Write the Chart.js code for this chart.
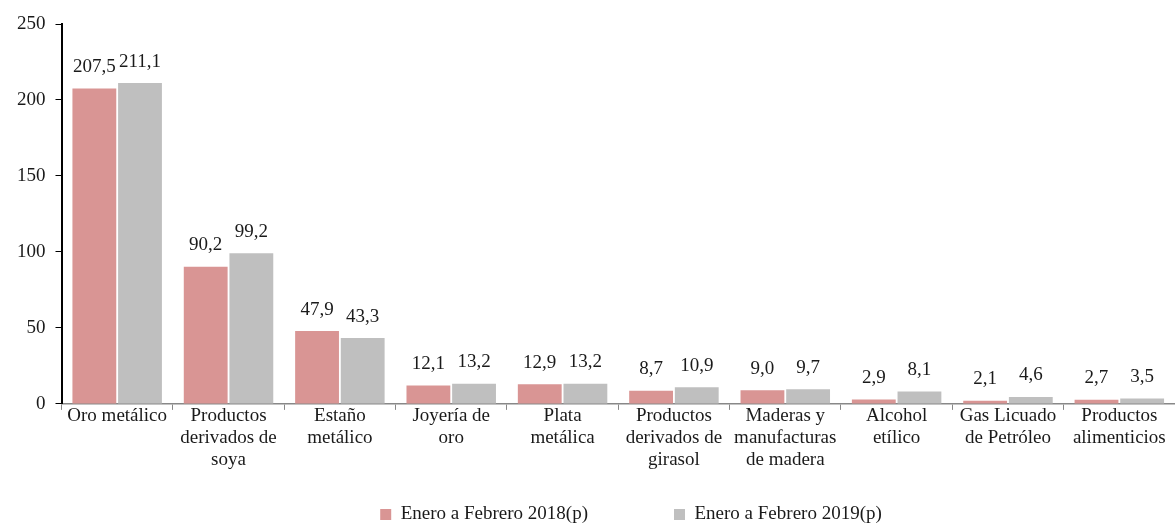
<!DOCTYPE html>
<html lang="es">
  <head>
    <meta charset="UTF-8" />
    <title>Exportaciones Enero a Febrero</title>
    <script src="https://cdn.jsdelivr.net/npm/chart.js@4.4.1/dist/chart.umd.min.js"></script>
    <style>
      body { margin: 0; background: #fff; }
      #wrap { width: 1175px; height: 525px; }
    </style>
  </head>
  <body>
    <div id="wrap"><canvas id="chart" width="1175" height="525"></canvas></div>
    <script>
    // categorias (eje x, en varias lineas)
    const categorias = [
      ['Oro metálico'],
      ['Productos', 'derivados de', 'soya'],
      ['Estaño', 'metálico'],
      ['Joyería de', 'oro'],
      ['Plata', 'metálica'],
      ['Productos', 'derivados de', 'girasol'],
      ['Maderas y', 'manufacturas', 'de madera'],
      ['Alcohol', 'etílico'],
      ['Gas Licuado', 'de Petróleo'],
      ['Productos', 'alimenticios']
    ];
    const valores2018 = [207.5, 90.2, 47.9, 12.1, 12.9, 8.7, 9.0, 2.9, 2.1, 2.7];
    const valores2019 = [211.1, 99.2, 43.3, 13.2, 13.2, 10.9, 9.7, 8.1, 4.6, 3.5];
    const serie1 = 'Enero a Febrero 2018(p)';
    const serie2 = 'Enero a Febrero 2019(p)';
    const ticksY = [0, 50, 100, 150, 200, 250];

    const fuente = "'Liberation Serif', 'DejaVu Serif', serif";

    // etiquetas de valor encima de cada barra
    const etiquetas = {
      id: 'etiquetas',
      afterLayout(chart) {
        // la leyenda va algo a la derecha del centro
        chart.legend.left += 40;
        chart.legend.right += 40;
      },
      afterDatasetsDraw(chart) {
        const ctx = chart.ctx;
        ctx.save();
        ctx.font = '19px ' + fuente;
        ctx.fillStyle = '#1a1a1a';
        ctx.textAlign = 'center';
        ctx.textBaseline = 'bottom';
        chart.data.datasets.forEach((ds, i) => {
          chart.getDatasetMeta(i).data.forEach((bar, j) => {
            const txt = ds.data[j].toFixed(1).replace('.', ',');
            ctx.fillText(txt, bar.x, bar.y - 12);
          });
        });
        ctx.restore();
      }
    };

    const ctx = document.getElementById('chart').getContext('2d');
    new Chart(ctx, {
      type: 'bar',
      data: {
        labels: categorias,
        datasets: [
          { label: serie1, data: valores2018, backgroundColor: '#d99594',
            barPercentage: 0.96, categoryPercentage: 0.82 },
          { label: serie2, data: valores2019, backgroundColor: '#bfbfbf',
            barPercentage: 0.96, categoryPercentage: 0.82 }
        ]
      },
      options: {
        responsive: false,
        animation: false,
        layout: { padding: { top: 24, left: 7, right: 0, bottom: -9 } },
        plugins: {
          tooltip: { enabled: false },
          legend: {
            position: 'bottom',
            labels: {
              boxWidth: 11, boxHeight: 11, padding: 29,
              color: '#1a1a1a',
              font: { family: fuente, size: 19 },
              generateLabels(chart) {
                const items = Chart.defaults.plugins.legend.labels.generateLabels(chart);
                // separacion amplia entre las dos series
                items[0].text = items[0].text + '\u00A0'.repeat(12);
                return items;
              }
            }
          }
        },
        scales: {
          x: {
            afterFit(axis) { axis.height += 10; },
            grid: { drawOnChartArea: false, drawTicks: true, tickLength: 6, color: '#888' },
            border: { color: '#888', width: 1.5 },
            ticks: {
              color: '#1a1a1a', maxRotation: 0, autoSkip: false, padding: -5,
              font: { family: fuente, size: 19, lineHeight: 1.16 }
            }
          },
          y: {
            min: 0, max: 250,
            afterBuildTicks(axis) { axis.ticks = ticksY.map(v => ({ value: v })); },
            grid: { drawOnChartArea: false, drawTicks: true, tickLength: 6, color: '#000' },
            border: { color: '#000', width: 2 },
            ticks: {
              color: '#1a1a1a', padding: 10,
              font: { family: fuente, size: 19 }
            }
          }
        }
      },
      plugins: [etiquetas]
    });
    </script>
  </body>
</html>
